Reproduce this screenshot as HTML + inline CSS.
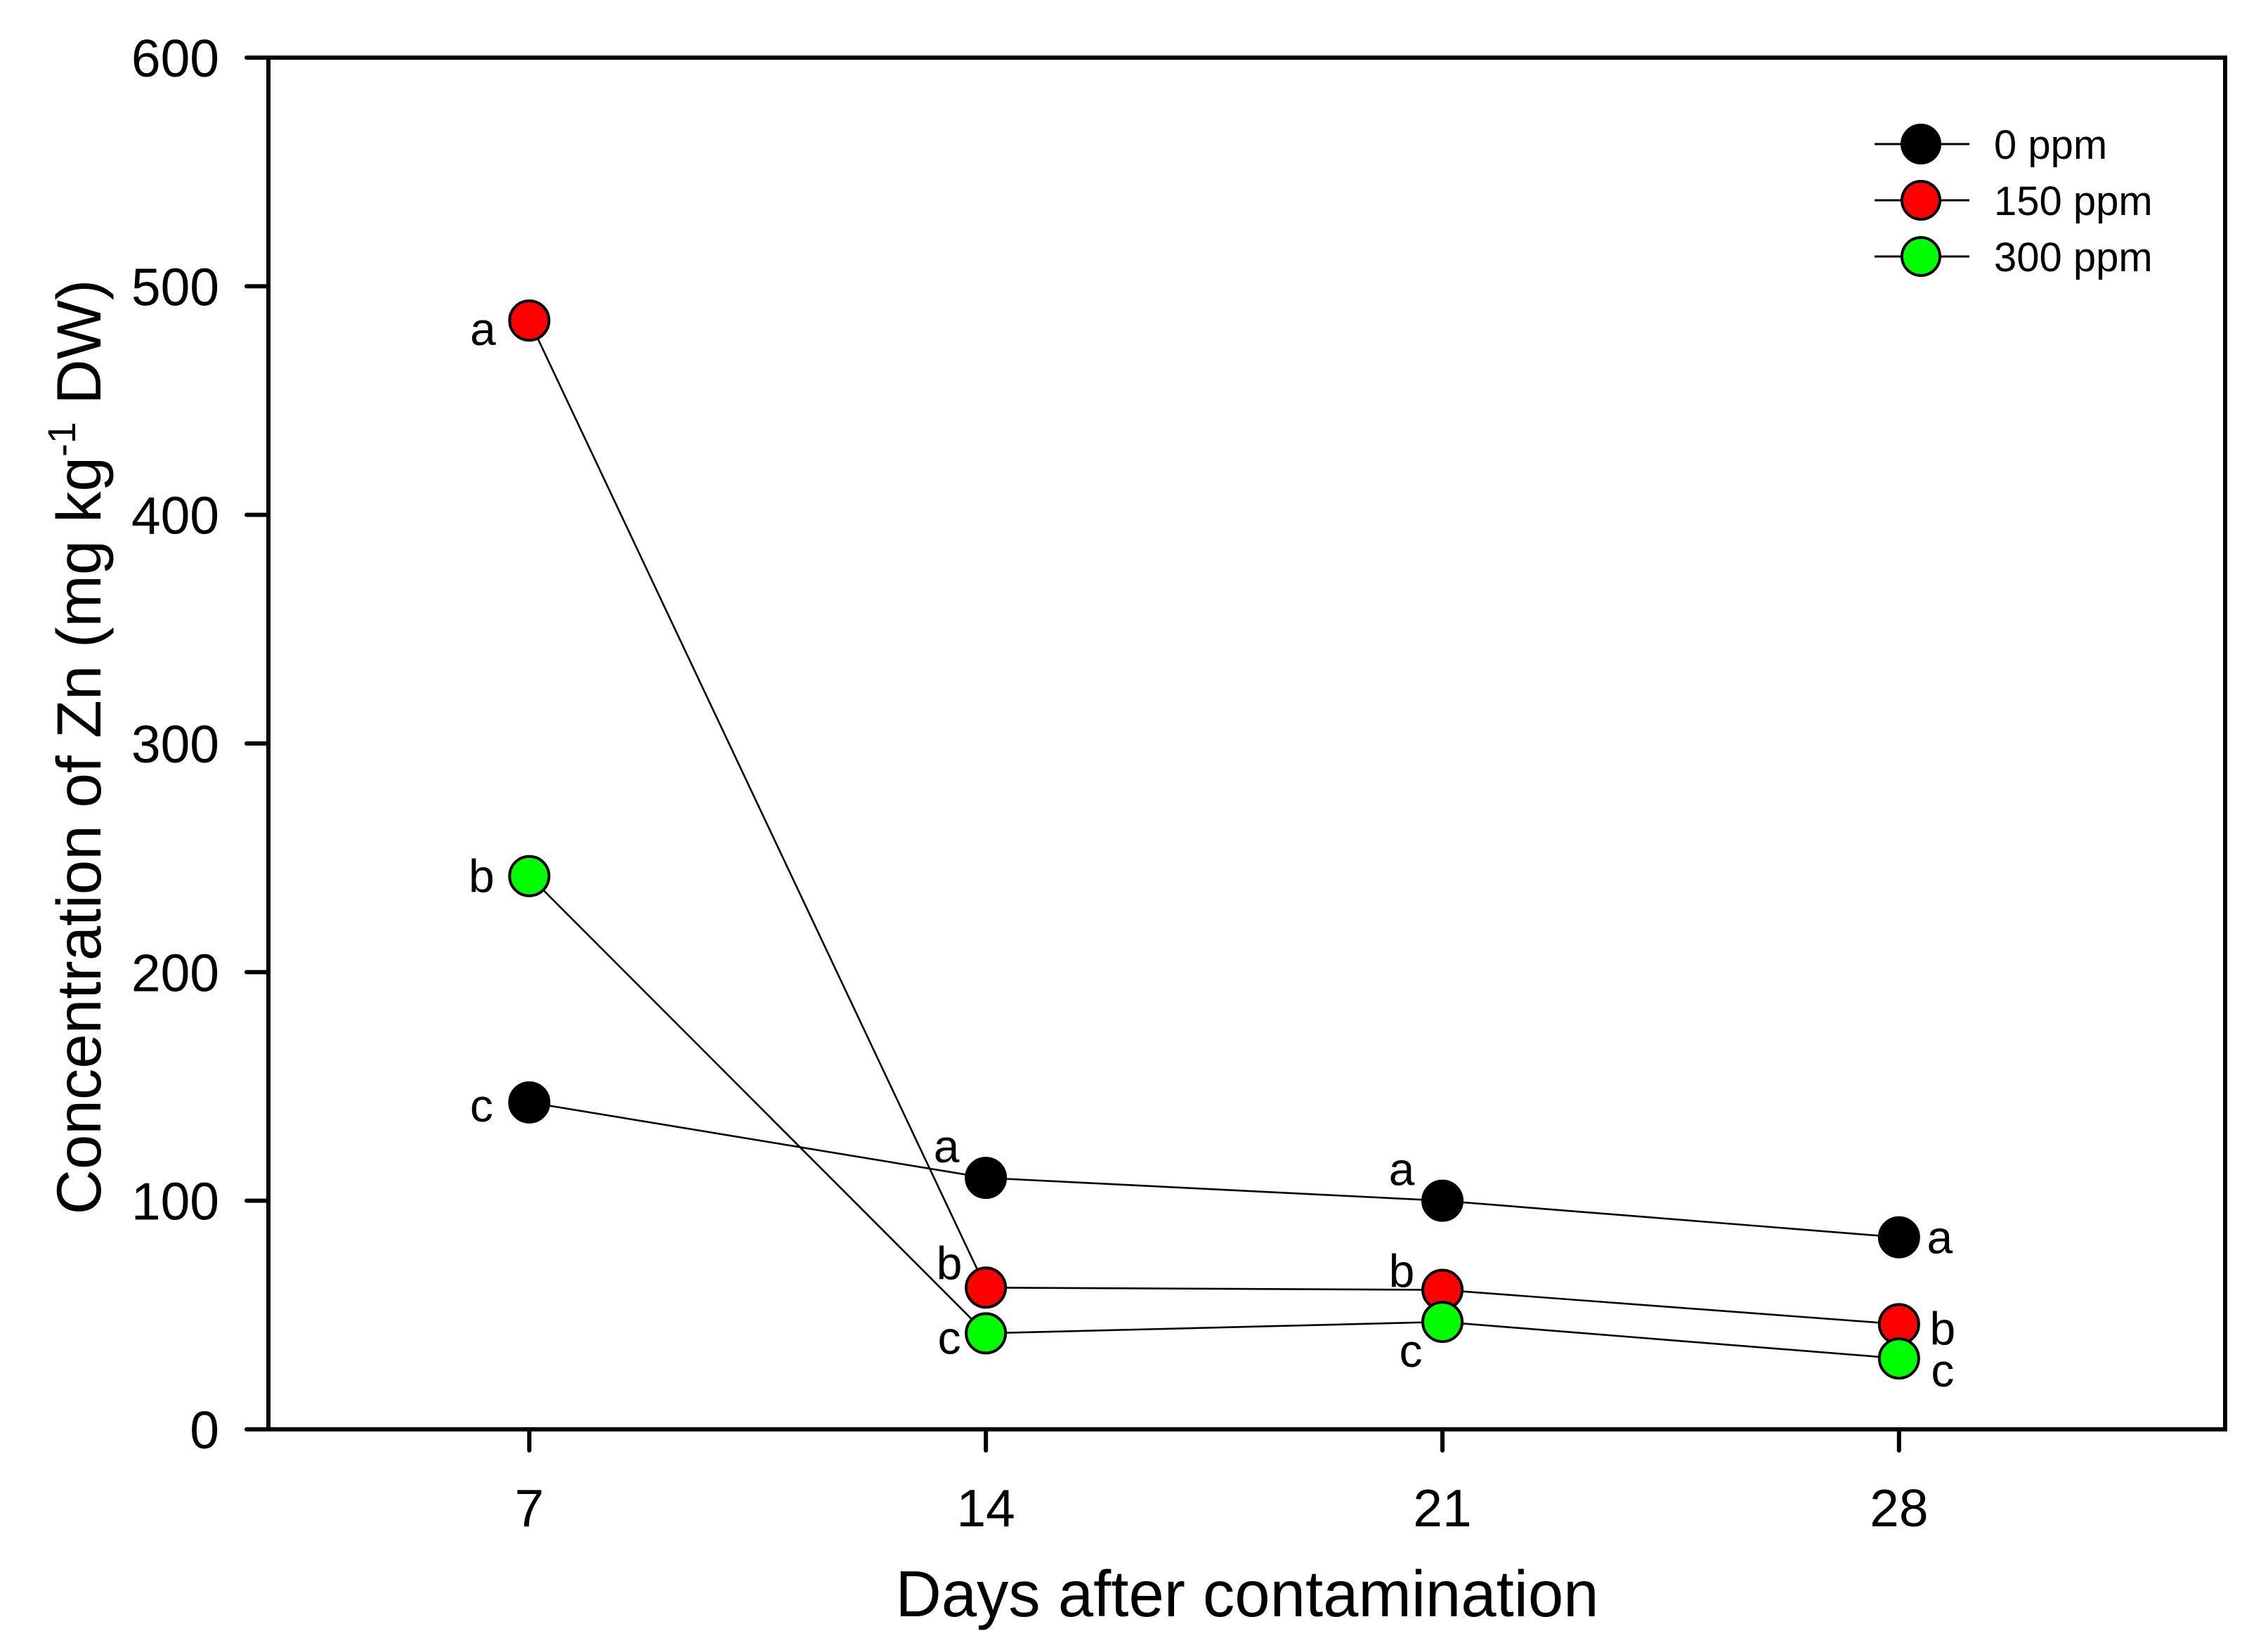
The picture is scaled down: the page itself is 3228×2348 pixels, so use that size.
<!DOCTYPE html>
<html><head><meta charset="utf-8">
<style>html,body{margin:0;padding:0;background:#fff}svg{display:block}text{font-family:"Liberation Sans",Arial,sans-serif;fill:#000}</style>
</head><body>
<svg id="chart" width="3228" height="2348" viewBox="0 0 3228 2348" xmlns="http://www.w3.org/2000/svg">
<rect x="0" y="0" width="3228" height="2348" fill="#fff"/>
<g id="series-layer"></g>
<g id="axes-layer"></g>
</svg>
<script>
const days = [7, 14, 21, 28];
const seriesNames = ["0 ppm", "150 ppm", "300 ppm"];
const seriesColors = ["#000000", "#ff0000", "#00ff00"];
const zn0 = [143, 110, 100, 84];
const zn150 = [485, 62, 61, 46];
const zn300 = [242, 42, 47, 31];
const yTicks = [0, 100, 200, 300, 400, 500, 600];
const xTicks = [7, 14, 21, 28];
// letter annotations: series index, point index, letter, dx, dy
const letterSeries = [1, 2, 0, 0, 1, 2, 0, 1, 2, 0, 1, 2];
const letterPoint = [0, 0, 0, 1, 1, 1, 2, 2, 2, 3, 3, 3];
const letterText = ["a", "b", "c", "a", "b", "c", "a", "b", "c", "a", "b", "c"];
const letterDx = [-66, -68, -68, -56, -52, -52, -58, -58, -45, 58, 62, 62];
const letterDy = [12, 0, 4, -45, -35, 6, -45, -27, 41, 0, 6, 17];

const L = 382, R = 3167, T = 82, B = 2034;
const xMin = 3, xMax = 33, yMin = 0, yMax = 600;
const xs = v => L + (v - xMin) / (xMax - xMin) * (R - L);
const ys = v => B - (v - yMin) / (yMax - yMin) * (B - T);
const NS = "http://www.w3.org/2000/svg";
const svg = document.getElementById("chart");
const sl = document.getElementById("series-layer");
const al = document.getElementById("axes-layer");
function mk(tag, attrs, parent) {
  const e = document.createElementNS(NS, tag);
  for (const k in attrs) e.setAttribute(k, attrs[k]);
  parent.appendChild(e);
  return e;
}
const allSeries = [zn0, zn150, zn300];
const seriesKeys = ["0ppm", "150ppm", "300ppm"];

allSeries.forEach((vals, si) => {
  const pts = vals.map((v, i) => xs(days[i]) + "," + ys(v)).join(" ");
  const pl = mk("polyline", {points: pts, fill: "none", stroke: "#000", "stroke-width": 2.6}, sl);
  
  
});
allSeries.forEach((vals, si) => {
  vals.forEach((v, i) => {
    const c = mk("circle", {cx: xs(days[i]), cy: ys(v), r: 28, fill: seriesColors[si], stroke: "#000", "stroke-width": 4}, sl);
    
    
  });
});
letterText.forEach((t, k) => {
  const vals = allSeries[letterSeries[k]];
  const pi = letterPoint[k];
  const tx = mk("text", {x: xs(days[pi]) + letterDx[k], y: ys(vals[pi]) + letterDy[k], "font-size": 66, "text-anchor": "middle", "dominant-baseline": "central"}, sl);
  tx.textContent = t;
  
  
});

const fr = mk("rect", {x: L, y: T, width: R - L, height: B - T, fill: "none", stroke: "#000", "stroke-width": 6}, al);


yTicks.forEach(v => {
  const ln = mk("line", {x1: L - 31, x2: L, y1: ys(v), y2: ys(v), stroke: "#000", "stroke-width": 6, "stroke-linecap": "round"}, al);
  
  
  const tx = mk("text", {x: 312, y: ys(v) + 27, "font-size": 75, "text-anchor": "end"}, al);
  tx.textContent = v;
  
  
});
xTicks.forEach(v => {
  const ln = mk("line", {x1: xs(v), x2: xs(v), y1: B, y2: B + 30, stroke: "#000", "stroke-width": 6, "stroke-linecap": "round"}, al);
  
  
  const tx = mk("text", {x: xs(v), y: 2172, "font-size": 75, "text-anchor": "middle"}, al);
  tx.textContent = v;
  
  
});
seriesNames.forEach((n, si) => {
  const cy = 205 + si * 80;
  const ln = mk("line", {x1: 2668, x2: 2803, y1: cy, y2: cy, stroke: "#000", "stroke-width": 3}, al);
  
  
  const c = mk("circle", {cx: 2734, cy: cy, r: 27, fill: seriesColors[si], stroke: "#000", "stroke-width": 4}, al);
  
  
  const tx = mk("text", {x: 2838, y: cy + 21, "font-size": 58}, al);
  tx.textContent = n;
  
  
});
</script>
<svg style="position:absolute;left:0;top:0" width="3228" height="2348">
<text x="1775" y="2300" font-size="93" text-anchor="middle" textLength="1001" lengthAdjust="spacingAndGlyphs">Days after contamination</text>
<text transform="translate(143,1063) rotate(-90)" font-size="89" text-anchor="middle">Concentration of Zn (mg kg<tspan font-size="56" dy="-36">-1</tspan><tspan dy="36"> DW)</tspan></text>
</svg>
</body></html>
